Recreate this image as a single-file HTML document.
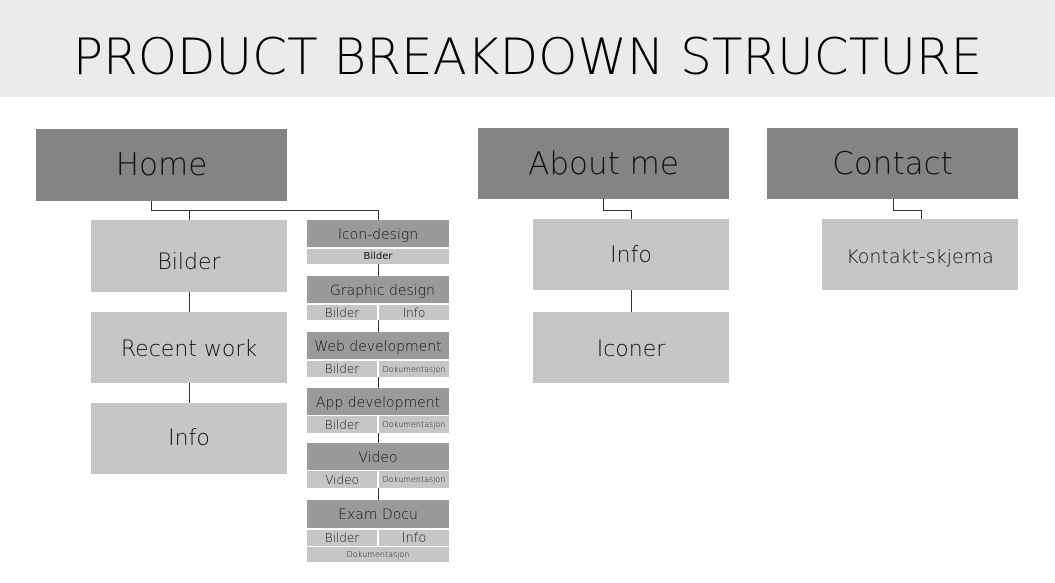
<!DOCTYPE html>
<html><head><meta charset="utf-8"><style>
body{margin:0;width:1055px;height:583px;background:#fff;position:relative;overflow:hidden;font-family:"DejaVu Sans","Liberation Sans",sans-serif;font-weight:200;color:#111}
.b{position:absolute;display:flex;align-items:center;justify-content:center;box-sizing:border-box;white-space:nowrap}
.d{background:#838483;font-size:31px}
.l{background:#c6c6c6;font-size:22px;padding-top:2px}
.h{background:#9a9a9a;font-size:14px}
.s{background:#c6c6c6;font-size:12px}
.t{font-size:8px}
.v{position:absolute;width:1px;background:#333}
.hz{position:absolute;height:1px;background:#333}
</style></head><body>
<div class="b" style="left:0;top:0;width:1055px;height:97px;background:#ebebeb;font-size:50px;letter-spacing:0;color:#000;padding-top:16px">PRODUCT BREAKDOWN STRUCTURE</div>

<div class="b d" style="left:36px;top:129px;width:251px;height:72px">Home</div>
<div class="b d" style="left:478px;top:128px;width:251px;height:71px">About me</div>
<div class="b d" style="left:767px;top:128px;width:251px;height:71px">Contact</div>

<div class="b l" style="left:91px;top:220px;width:196px;height:72px;padding-top:13px">Bilder</div>
<div class="b l" style="left:91px;top:312px;width:196px;height:71px;padding-top:4px">Recent work</div>
<div class="b l" style="left:91px;top:403px;width:196px;height:71px;padding-top:0">Info</div>
<div class="b l" style="left:533px;top:219px;width:196px;height:71px;padding-top:2px">Info</div>
<div class="b l" style="left:533px;top:312px;width:196px;height:71px;padding-top:4px">Iconer</div>
<div class="b l" style="left:822px;top:219px;width:196px;height:71px;font-size:19px;padding-top:4px">Kontakt-skjema</div>

<!-- connectors -->
<div class="v" style="left:151px;top:201px;height:10px"></div>
<div class="hz" style="left:151px;top:210px;width:228px"></div>
<div class="v" style="left:189px;top:210px;height:10px"></div>
<div class="v" style="left:378px;top:210px;height:10px"></div>
<div class="v" style="left:189px;top:292px;height:20px"></div>
<div class="v" style="left:189px;top:383px;height:20px"></div>
<div class="v" style="left:603px;top:199px;height:11px"></div>
<div class="hz" style="left:603px;top:210px;width:29px"></div>
<div class="v" style="left:631px;top:210px;height:9px"></div>
<div class="v" style="left:631px;top:290px;height:22px"></div>
<div class="v" style="left:893px;top:199px;height:11px"></div>
<div class="hz" style="left:893px;top:210px;width:29px"></div>
<div class="v" style="left:921px;top:210px;height:9px"></div>
<div class="v" style="left:378px;top:264px;height:12px"></div>
<div class="v" style="left:378px;top:320px;height:12px"></div>
<div class="v" style="left:378px;top:377px;height:11px"></div>
<div class="v" style="left:378px;top:433px;height:10px"></div>
<div class="v" style="left:378px;top:488px;height:12px"></div>

<!-- right column -->
<div class="b h" style="left:307px;top:220px;width:142px;height:27px;padding-top:2px">Icon-design</div>
<div class="b s" style="left:307px;top:249px;width:142px;height:15px;font-size:10px;font-weight:400">Bilder</div>

<div class="b h" style="left:307px;top:276px;width:142px;height:27px;padding-top:2px">&nbsp;&nbsp;Graphic design</div>
<div class="b s" style="left:307px;top:305px;width:70px;height:15px">Bilder</div>
<div class="b s" style="left:379px;top:305px;width:70px;height:15px">Info</div>

<div class="b h" style="left:307px;top:332px;width:142px;height:27px;padding-top:2px">Web development</div>
<div class="b s" style="left:307px;top:361px;width:70px;height:16px">Bilder</div>
<div class="b s t" style="left:379px;top:361px;width:70px;height:16px">Dokumentasjon</div>

<div class="b h" style="left:307px;top:388px;width:142px;height:27px;padding-top:2px">App development</div>
<div class="b s" style="left:307px;top:416px;width:70px;height:17px">Bilder</div>
<div class="b s t" style="left:379px;top:416px;width:70px;height:17px">Dokumentasjon</div>

<div class="b h" style="left:307px;top:443px;width:142px;height:27px;padding-top:2px">Video</div>
<div class="b s" style="left:307px;top:471px;width:70px;height:17px">Video</div>
<div class="b s t" style="left:379px;top:471px;width:70px;height:17px">Dokumentasjon</div>

<div class="b h" style="left:307px;top:500px;width:142px;height:28px;padding-top:2px">Exam Docu</div>
<div class="b s" style="left:307px;top:530px;width:70px;height:16px">Bilder</div>
<div class="b s" style="left:379px;top:530px;width:70px;height:16px;font-size:13px">Info</div>
<div class="b s t" style="left:307px;top:547px;width:142px;height:15px">Dokumentasjon</div>
</body></html>
